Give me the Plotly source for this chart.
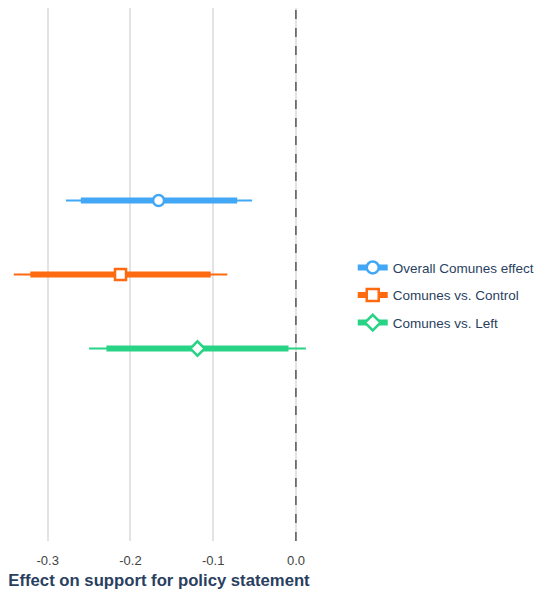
import plotly.graph_objects as go

# Estimated effects with 90% (thick) and 95% (thin) intervals
labels = ["Overall Comunes effect", "Comunes vs. Control", "Comunes vs. Left"]
estimates = [-0.166, -0.212, -0.119]
ci90_low = [-0.260, -0.321, -0.229]
ci90_high = [-0.071, -0.103, -0.009]
ci95_low = [-0.278, -0.341, -0.250]
ci95_high = [-0.053, -0.083, 0.012]
rows = [3, 2, 1]

colors = ["#42a7f5", "#fd6a10", "#28d385"]
symbols = ["circle", "square", "diamond"]

fig = go.Figure()

for i, name in enumerate(labels):
    c = colors[i]
    y = rows[i]
    # thin 95% interval
    fig.add_trace(go.Scatter(
        x=[ci95_low[i], ci95_high[i]], y=[y, y], mode="lines",
        line=dict(color=c, width=2), showlegend=False, hoverinfo="skip"))
    # thick 90% interval
    fig.add_trace(go.Scatter(
        x=[ci90_low[i], ci90_high[i]], y=[y, y], mode="lines",
        line=dict(color=c, width=6), showlegend=False, hoverinfo="skip"))
    # point estimate
    fig.add_trace(go.Scatter(
        x=[estimates[i]], y=[y], mode="markers",
        marker=dict(symbol=symbols[i], size=11, color="white",
                    line=dict(color=c, width=2.5)),
        showlegend=False, name=name))

# legend entries: thick line with the point symbol
for i, name in enumerate(labels):
    fig.add_trace(go.Scatter(
        x=[None], y=[None], mode="lines+markers", name=name,
        legendgroup=f"g{i}",
        line=dict(color=colors[i], width=6),
        marker=dict(symbol=symbols[i], size=12, color="white",
                    line=dict(color=colors[i], width=2.5))))

fig.add_vline(x=0, line=dict(color="#333333", width=1.2, dash="dash"))

fig.update_layout(
    width=541, height=594,
    margin=dict(l=8, r=231, t=8, b=51),
    plot_bgcolor="white", paper_bgcolor="white",
    font=dict(family="Liberation Sans, Arial, sans-serif", color="#2a3f5f"),
    xaxis=dict(
        range=[-0.348, 0.017],
        tickvals=[-0.3, -0.2, -0.1, 0.0],
        ticktext=["-0.3", "-0.2", "-0.1", "0.0"],
        showgrid=True, gridcolor="#e3e3e3", gridwidth=1.5,
        zeroline=False, showline=False,
        ticks="outside", ticklen=7, tickcolor="rgba(0,0,0,0)",
        tickfont=dict(size=13, color="#444444"),
        title=dict(text="<b>Effect on support for policy statement</b>",
                   font=dict(size=16.7, color="#2a3f5f"), standoff=7),
    ),
    yaxis=dict(range=[-1.6, 5.6], showgrid=False, zeroline=False,
               showticklabels=False, ticks=""),
    legend=dict(xref="container", x=0.652, xanchor="left",
                yref="container", y=0.503, yanchor="middle",
                font=dict(size=13.5, color="#2a3f5f"), tracegroupgap=7,
                traceorder="grouped", bgcolor="rgba(0,0,0,0)"),
)

fig.write_html("out.html")
